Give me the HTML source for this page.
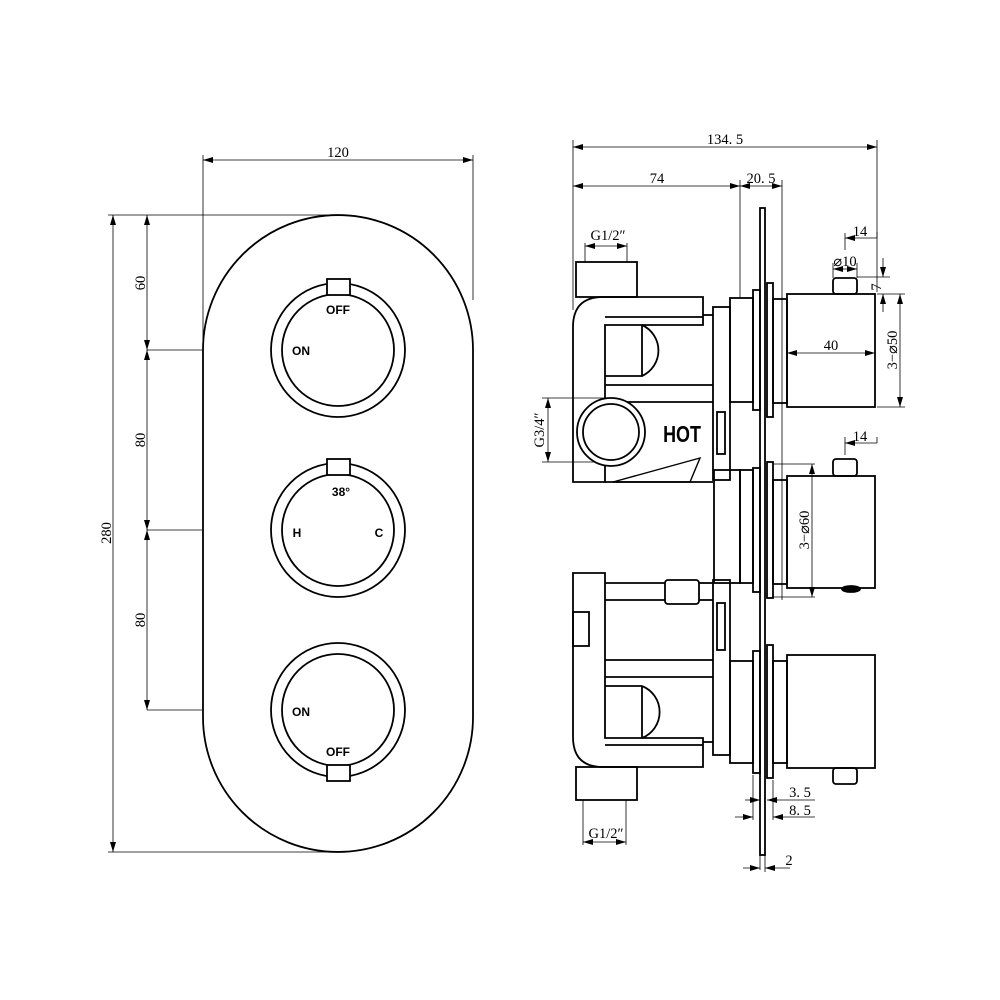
<!DOCTYPE html>
<html><head><style>body{margin:0;background:#fff}svg{display:block}</style></head><body>
<svg width="1000" height="1000" viewBox="0 0 1000 1000" xmlns="http://www.w3.org/2000/svg">
<defs>
<marker id="a" viewBox="0 0 10 6" refX="10" refY="3" markerWidth="10" markerHeight="6" orient="auto-start-reverse" markerUnits="userSpaceOnUse"><path d="M0,0L10,3L0,6z" fill="#000"/></marker>
</defs>
<rect width="1000" height="1000" fill="#fff"/>
<g fill="none" stroke="#000" stroke-width="0.8">
<line x1="203" y1="155" x2="203" y2="350"/><line x1="473" y1="155" x2="473" y2="300"/>
<line x1="203" y1="160" x2="473" y2="160" marker-start="url(#a)" marker-end="url(#a)"/>
<line x1="108" y1="215" x2="340" y2="215"/><line x1="108" y1="852" x2="340" y2="852"/>
<line x1="113" y1="215" x2="113" y2="852" marker-start="url(#a)" marker-end="url(#a)"/>
<line x1="147" y1="215" x2="147" y2="350" marker-start="url(#a)" marker-end="url(#a)"/>
<line x1="147" y1="350" x2="147" y2="530" marker-start="url(#a)" marker-end="url(#a)"/>
<line x1="147" y1="530" x2="147" y2="710" marker-start="url(#a)" marker-end="url(#a)"/>
<line x1="147" y1="350" x2="202" y2="350"/><line x1="147" y1="530" x2="202" y2="530"/><line x1="147" y1="710" x2="202" y2="710"/>
<line x1="573" y1="140" x2="573" y2="310"/><line x1="877" y1="140" x2="877" y2="292"/>
<line x1="573" y1="147" x2="877" y2="147" marker-start="url(#a)" marker-end="url(#a)"/>
<line x1="740" y1="180" x2="740" y2="298"/><line x1="782" y1="180" x2="782" y2="600"/>
<line x1="573" y1="186" x2="740" y2="186" marker-start="url(#a)" marker-end="url(#a)"/>
<line x1="740" y1="186" x2="782" y2="186" marker-start="url(#a)" marker-end="url(#a)"/>
<line x1="585" y1="243" x2="585" y2="262"/><line x1="627" y1="243" x2="627" y2="262"/>
<line x1="585" y1="246" x2="627" y2="246" marker-start="url(#a)" marker-end="url(#a)"/>
<line x1="845" y1="233" x2="845" y2="250"/><line x1="877" y1="238" x2="845" y2="238" marker-end="url(#a)"/><line x1="877" y1="238" x2="877" y2="232"/>
<line x1="833" y1="263" x2="833" y2="278"/><line x1="857" y1="263" x2="857" y2="278"/>
<line x1="833" y1="269" x2="857" y2="269" marker-start="url(#a)" marker-end="url(#a)"/>
<line x1="857" y1="277" x2="890" y2="277"/><line x1="877" y1="294" x2="905" y2="294"/><line x1="877" y1="407" x2="905" y2="407"/>
<line x1="883" y1="258" x2="883" y2="277" marker-end="url(#a)"/><line x1="883" y1="312" x2="883" y2="294" marker-end="url(#a)"/>
<line x1="900" y1="294" x2="900" y2="407" marker-start="url(#a)" marker-end="url(#a)"/>
<line x1="787" y1="353" x2="875" y2="353" marker-start="url(#a)" marker-end="url(#a)"/>
<line x1="845" y1="437" x2="845" y2="455"/><line x1="877" y1="443" x2="845" y2="443" marker-end="url(#a)"/><line x1="877" y1="443" x2="877" y2="437"/>
<line x1="773" y1="464" x2="815" y2="464"/><line x1="773" y1="597" x2="815" y2="597"/>
<line x1="812" y1="464" x2="812" y2="597" marker-start="url(#a)" marker-end="url(#a)"/>
<line x1="542" y1="398" x2="612" y2="398"/><line x1="542" y1="462" x2="612" y2="462"/>
<line x1="548" y1="398" x2="548" y2="462" marker-start="url(#a)" marker-end="url(#a)"/>
<line x1="753" y1="775" x2="753" y2="820"/><line x1="773" y1="780" x2="773" y2="820"/><line x1="760" y1="800" x2="760" y2="870"/><line x1="765" y1="855" x2="765" y2="872"/>
<line x1="745" y1="800" x2="760" y2="800" marker-end="url(#a)"/><line x1="815" y1="800" x2="767" y2="800" marker-end="url(#a)"/>
<line x1="735" y1="817" x2="753" y2="817" marker-end="url(#a)"/><line x1="815" y1="817" x2="773" y2="817" marker-end="url(#a)"/>
<line x1="743" y1="868" x2="760" y2="868" marker-end="url(#a)"/><line x1="790" y1="868" x2="765" y2="868" marker-end="url(#a)"/>
<line x1="583" y1="800" x2="583" y2="845"/><line x1="626" y1="800" x2="626" y2="845"/>
<line x1="583" y1="842" x2="626" y2="842" marker-start="url(#a)" marker-end="url(#a)"/>
</g>
<g fill="none" stroke="#000" stroke-width="1.8">
<path d="M203,350 A135,135 0 0 1 473,350 L473,717 A135,135 0 0 1 203,717 Z"/>
<circle cx="338" cy="350" r="67"/><circle cx="338" cy="350" r="56"/>
<circle cx="338" cy="530" r="67"/><circle cx="338" cy="530" r="56"/>
<circle cx="338" cy="710" r="67"/><circle cx="338" cy="710" r="56"/>
<rect x="327" y="279" width="23" height="16" fill="#fff"/>
<rect x="327" y="459" width="23" height="16" fill="#fff"/>
<rect x="327" y="765" width="23" height="16" fill="#fff"/>
<rect x="576" y="262" width="61" height="35"/>
<path d="M703,297 L603,297 Q573,297 573,327 L573,482 L605,482 L605,325 L703,325 Z"/>
<line x1="605" y1="317" x2="703" y2="317"/>
<path d="M642,325 L642,376 L605,376 M642,325 A28,28 0 0 1 642,376"/>
<line x1="605" y1="385" x2="713" y2="385"/>
<line x1="605" y1="402" x2="713" y2="402"/>
<line x1="703" y1="315" x2="713" y2="315"/>
<rect x="713" y="307" width="17" height="173"/>
<circle cx="611" cy="432" r="34" fill="#fff"/><circle cx="611" cy="432" r="28"/>
<rect x="717" y="412" width="8" height="42"/>
<path d="M613,482 L700,458 L690,482 Z" stroke-width="1.4"/>
<line x1="605" y1="482" x2="713" y2="482"/>
<rect x="730" y="298" width="23" height="104"/>
<rect x="753" y="290" width="7" height="120"/>
<rect x="767" y="283" width="6" height="134"/>
<rect x="760" y="208" width="5" height="647"/>
<rect x="773" y="299" width="14" height="104"/>
<rect x="787" y="294" width="88" height="113"/>
<rect x="833" y="278" width="24" height="16" rx="3"/>
<rect x="714" y="470" width="26" height="113"/>
<rect x="740" y="470" width="13" height="113"/>
<rect x="753" y="468" width="7" height="124"/>
<rect x="767" y="462" width="6" height="136"/>
<rect x="773" y="480" width="14" height="104"/>
<rect x="787" y="476" width="88" height="112"/>
<rect x="833" y="459" width="24" height="17" rx="3"/>
<ellipse cx="851" cy="589" rx="9" ry="3" fill="#000"/>
<path d="M573,573 L605,573 L605,738 L703,738 L703,767 L603,767 Q573,767 573,737 Z"/>
<line x1="605" y1="745" x2="703" y2="745"/>
<rect x="573" y="612" width="16" height="34"/>
<line x1="605" y1="583" x2="665" y2="583"/><line x1="605" y1="600" x2="665" y2="600"/>
<line x1="699" y1="583" x2="713" y2="583"/><line x1="699" y1="600" x2="713" y2="600"/>
<rect x="665" y="580" width="34" height="24" rx="3"/>
<rect x="713" y="580" width="17" height="175"/>
<rect x="717" y="603" width="8" height="47"/>
<line x1="605" y1="660" x2="713" y2="660"/><line x1="605" y1="677" x2="713" y2="677"/>
<path d="M642,686 L642,738 M605,686 L642,686 M642,686 A28,28 0 0 1 642,738"/>
<line x1="703" y1="742" x2="713" y2="742"/>
<rect x="576" y="767" width="61" height="33"/>
<rect x="730" y="661" width="23" height="102"/>
<rect x="753" y="651" width="7" height="122"/>
<rect x="767" y="645" width="6" height="133"/>
<rect x="773" y="661" width="14" height="102"/>
<rect x="787" y="655" width="88" height="113"/>
<rect x="833" y="768" width="24" height="16" rx="3"/>
</g>
<g font-family="Liberation Serif, serif" font-size="14.5" fill="#000">
<text x="338" y="157" text-anchor="middle">120</text>
<text transform="translate(111,533) rotate(-90)" text-anchor="middle">280</text>
<text transform="translate(145,283) rotate(-90)" text-anchor="middle">60</text>
<text transform="translate(145,440) rotate(-90)" text-anchor="middle">80</text>
<text transform="translate(145,620) rotate(-90)" text-anchor="middle">80</text>
<text x="725" y="144" text-anchor="middle">134. 5</text>
<text x="657" y="183" text-anchor="middle">74</text>
<text x="761" y="183" text-anchor="middle">20. 5</text>
<text x="608" y="240" text-anchor="middle">G1/2″</text>
<text x="860" y="236" text-anchor="middle">14</text>
<text x="845" y="266" text-anchor="middle">⌀10</text>
<text transform="translate(881,287) rotate(-90)" text-anchor="middle">7</text>
<text transform="translate(897,350) rotate(-90)" text-anchor="middle">3−⌀50</text>
<text x="831" y="350" text-anchor="middle">40</text>
<text x="860" y="441" text-anchor="middle">14</text>
<text transform="translate(809,530) rotate(-90)" text-anchor="middle">3−⌀60</text>
<text transform="translate(544,430) rotate(-90)" text-anchor="middle">G3/4″</text>
<text x="800" y="797" text-anchor="middle">3. 5</text>
<text x="800" y="815" text-anchor="middle">8. 5</text>
<text x="789" y="865" text-anchor="middle">2</text>
<text x="606" y="838" text-anchor="middle">G1/2″</text>
</g>
<g font-family="Liberation Sans, sans-serif" font-size="12" font-weight="bold" fill="#000">
<text x="338" y="314" text-anchor="middle">OFF</text>
<text x="301" y="355" text-anchor="middle">ON</text>
<text x="341" y="496" text-anchor="middle">38°</text>
<text x="297" y="537" text-anchor="middle">H</text>
<text x="379" y="537" text-anchor="middle">C</text>
<text x="301" y="716" text-anchor="middle">ON</text>
<text x="338" y="756" text-anchor="middle">OFF</text>
<text x="682" y="442" text-anchor="middle" font-size="23" transform="translate(682,0) scale(0.78,1) translate(-682,0)">HOT</text>
</g>
</svg>
</body></html>
